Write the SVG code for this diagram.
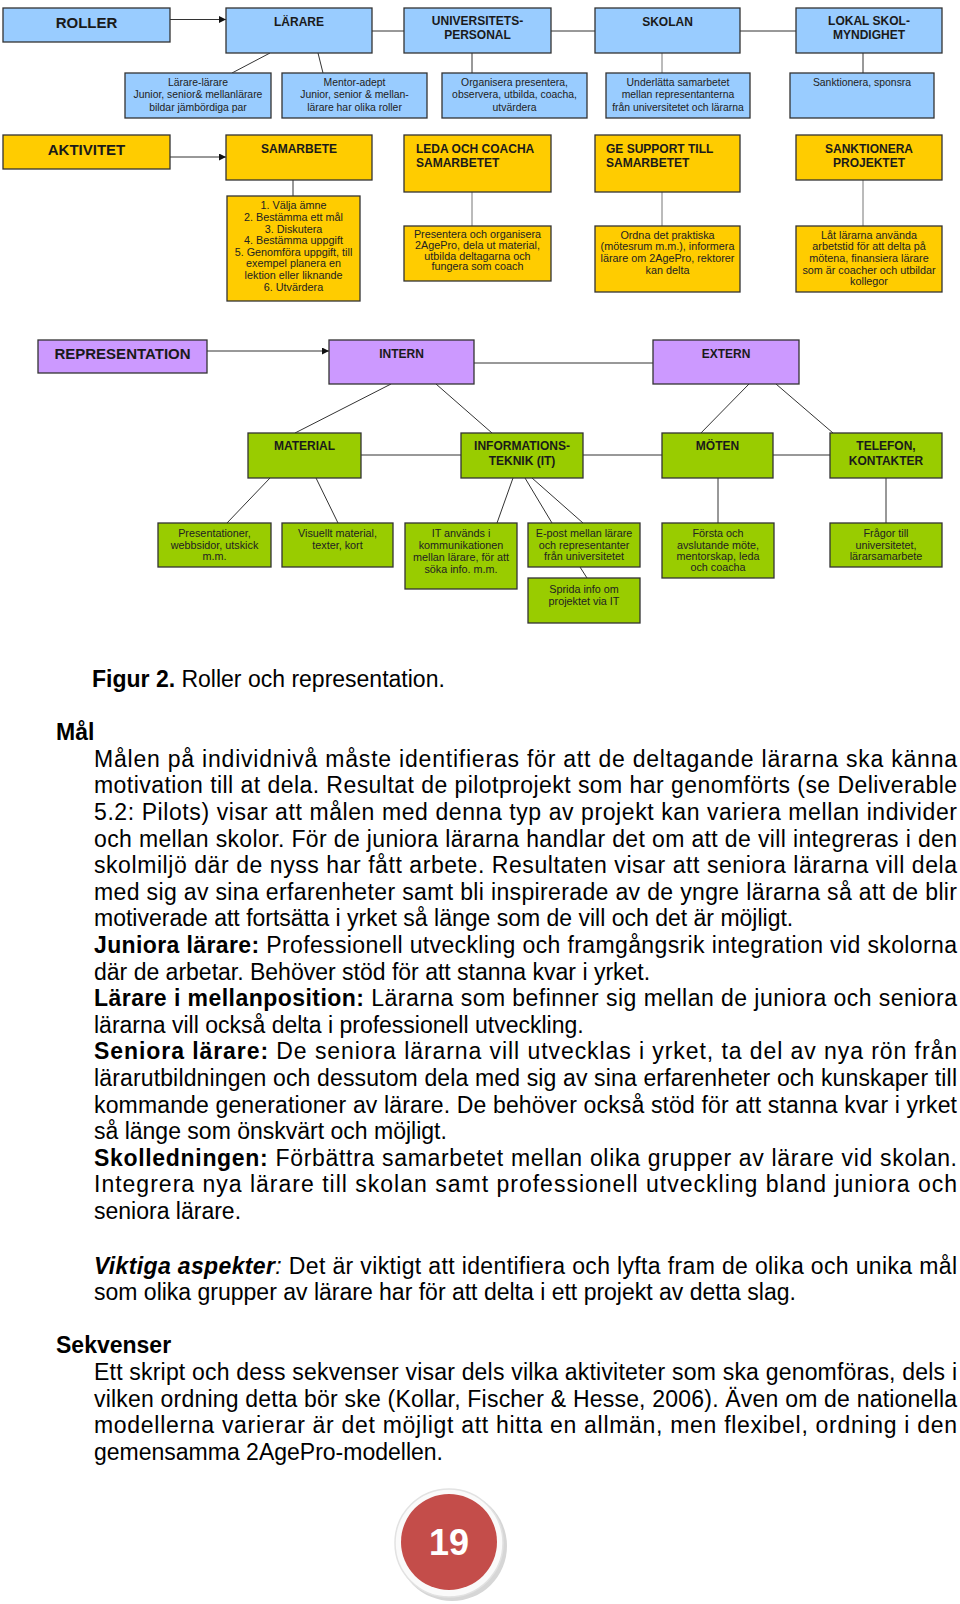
<svg xmlns="http://www.w3.org/2000/svg" width="960" height="1604" viewBox="0 0 960 1604">
<style>
.box{stroke:#333;stroke-width:1.3}
.b{fill:#99ccff}.y{fill:#ffcc00}.p{fill:#cc99ff}.g{fill:#99cc00}
.t{font-family:"Liberation Sans",Arial,sans-serif;font-weight:bold;font-size:12px;fill:#1a1a1a;text-anchor:middle}
.tl{font-family:"Liberation Sans",Arial,sans-serif;font-weight:bold;font-size:12px;fill:#1a1a1a}
.big{font-family:"Liberation Sans",Arial,sans-serif;font-weight:bold;font-size:15px;fill:#1a1a1a;text-anchor:middle}
.s{font-family:"Liberation Sans",Arial,sans-serif;font-size:10.8px;fill:#222;text-anchor:middle}
.sb{font-size:10.4px}
.c line{stroke:#333;stroke-width:1}
.c line.gr{stroke:#777}
.body{font-family:"Liberation Sans",Arial,sans-serif;font-size:23px;fill:#000}
.bd{font-weight:bold}
</style>
<defs>
<marker id="ah" viewBox="0 0 10 10" refX="10" refY="5" markerWidth="7" markerHeight="7" orient="auto" markerUnits="userSpaceOnUse">
<path d="M0,0 L10,5 L0,10 z" fill="#111"/>
</marker>
</defs>
<rect width="960" height="1604" fill="#fff"/>

<g class="c" id="connectors">
<line x1="170" y1="19.5" x2="226" y2="19.5" marker-end="url(#ah)"/>
<line x1="372" y1="31" x2="404" y2="31"/>
<line x1="551" y1="31" x2="595" y2="31"/>
<line x1="740" y1="31" x2="796" y2="31"/>
<line x1="270" y1="53" x2="232" y2="73"/>
<line x1="318" y1="53" x2="323" y2="73"/>
<line x1="472" y1="53" x2="472" y2="73"/>
<line class="gr" x1="662" y1="53" x2="662" y2="73"/>
<line x1="863" y1="53" x2="863" y2="73"/>
<line x1="170" y1="157" x2="226" y2="157" marker-end="url(#ah)"/>
<line x1="293" y1="180" x2="293" y2="196"/>
<line class="gr" x1="472" y1="192" x2="472" y2="226"/>
<line class="gr" x1="662" y1="192" x2="662" y2="226"/>
<line class="gr" x1="863" y1="180" x2="863" y2="226"/>
<line x1="207" y1="351" x2="329" y2="351" marker-end="url(#ah)"/>
<line x1="474" y1="363" x2="653" y2="363"/>
<line x1="391" y1="384" x2="295" y2="433"/>
<line x1="436" y1="384" x2="492" y2="433"/>
<line x1="749" y1="384" x2="697" y2="437"/>
<line x1="776" y1="384" x2="833" y2="433"/>
<line x1="361" y1="455" x2="461" y2="455"/>
<line x1="583" y1="455" x2="662" y2="455"/>
<line x1="773" y1="455" x2="830" y2="455"/>
<line x1="270" y1="478" x2="227" y2="523"/>
<line x1="316" y1="478" x2="338" y2="523"/>
<line x1="513" y1="478" x2="497" y2="523"/>
<line x1="525" y1="478" x2="552" y2="523"/>
<line x1="532" y1="478" x2="583" y2="523"/>
<line x1="580" y1="567" x2="587" y2="578"/>
<line x1="718" y1="478" x2="718" y2="523"/>
<line x1="886" y1="478" x2="886" y2="523"/>
</g>

<g id="roller"><rect class="box b" x="3" y="8" width="167" height="34"/><text class="big" x="86.5" y="28">ROLLER</text></g>
<g id="larare"><rect class="box b" x="226" y="8" width="146" height="45"/><text class="t" x="299" y="25.6">LÄRARE</text></g>
<g id="universitet"><rect class="box b" x="404" y="8" width="147" height="45"/><text class="t" x="477.5" y="24.5">UNIVERSITETS-</text><text class="t" x="477.5" y="38.5">PERSONAL</text></g>
<g id="skolan"><rect class="box b" x="595" y="8" width="145" height="45"/><text class="t" x="667.5" y="26">SKOLAN</text></g>
<g id="lokal"><rect class="box b" x="796" y="8" width="146" height="45"/><text class="t" x="869" y="24.5">LOKAL SKOL-</text><text class="t" x="869" y="38.5">MYNDIGHET</text></g>

<g id="larare-larare"><rect class="box b" x="125" y="73" width="146" height="45"/><text class="s sb" x="198" y="85.5">Lärare-lärare</text><text class="s sb" x="198" y="98">Junior, senior&amp; mellanlärare</text><text class="s sb" x="198" y="110.5">bildar jämbördiga par</text></g>
<g id="mentor"><rect class="box b" x="282" y="73" width="145" height="45"/><text class="s sb" x="354.5" y="85.5">Mentor-adept</text><text class="s sb" x="354.5" y="98">Junior, senior &amp; mellan-</text><text class="s sb" x="354.5" y="110.5">lärare har olika roller</text></g>
<g id="organisera"><rect class="box b" x="442" y="73" width="145" height="45"/><text class="s sb" x="514.5" y="85.5">Organisera presentera,</text><text class="s sb" x="514.5" y="98">observera, utbilda, coacha,</text><text class="s sb" x="514.5" y="110.5">utvärdera</text></g>
<g id="underlatta"><rect class="box b" x="606" y="73" width="144" height="45"/><text class="s sb" x="678" y="85.5">Underlätta samarbetet</text><text class="s sb" x="678" y="98">mellan representanterna</text><text class="s sb" x="678" y="110.5">från universitetet och lärarna</text></g>
<g id="sanktionera-sponsra"><rect class="box b" x="790" y="73" width="144" height="45"/><text class="s sb" x="862" y="85.5">Sanktionera, sponsra</text></g>

<g id="aktivitet"><rect class="box y" x="3" y="135" width="167" height="34"/><text class="big" x="86.5" y="155.4">AKTIVITET</text></g>
<g id="samarbete"><rect class="box y" x="226" y="135" width="146" height="45"/><text class="t" x="299" y="153.3">SAMARBETE</text></g>
<g id="leda"><rect class="box y" x="404" y="135" width="147" height="57"/><text class="tl" x="416" y="152.6">LEDA OCH COACHA</text><text class="tl" x="416" y="167">SAMARBETET</text></g>
<g id="support"><rect class="box y" x="595" y="135" width="145" height="57"/><text class="tl" x="606" y="152.6">GE SUPPORT TILL</text><text class="tl" x="606" y="167">SAMARBETET</text></g>
<g id="sanktionera-projektet"><rect class="box y" x="796" y="135" width="146" height="45"/><text class="t" x="869" y="152.6">SANKTIONERA</text><text class="t" x="869" y="166.6">PROJEKTET</text></g>

<g id="steg"><rect class="box y" x="227" y="196" width="133" height="105"/>
<text class="s" x="293.5" y="209.3">1. Välja ämne</text>
<text class="s" x="293.5" y="220.9">2. Bestämma ett mål</text>
<text class="s" x="293.5" y="232.5">3. Diskutera</text>
<text class="s" x="293.5" y="244.1">4. Bestämma uppgift</text>
<text class="s" x="293.5" y="255.7">5. Genomföra uppgift, till</text>
<text class="s" x="293.5" y="267.3">exempel planera en</text>
<text class="s" x="293.5" y="278.9">lektion eller liknande</text>
<text class="s" x="293.5" y="290.5">6. Utvärdera</text></g>
<g id="presentera"><rect class="box y" x="404" y="226" width="147" height="55"/>
<text class="s" x="477.5" y="238">Presentera och organisera</text>
<text class="s" x="477.5" y="248.8">2AgePro, dela ut material,</text>
<text class="s" x="477.5" y="259.6">utbilda deltagarna och</text>
<text class="s" x="477.5" y="270.4">fungera som coach</text></g>
<g id="ordna"><rect class="box y" x="595" y="226" width="145" height="66"/>
<text class="s" x="667.5" y="238.5">Ordna det praktiska</text>
<text class="s" x="667.5" y="250.2">(mötesrum m.m.), informera</text>
<text class="s" x="667.5" y="261.9">lärare om 2AgePro, rektorer</text>
<text class="s" x="667.5" y="273.6">kan delta</text></g>
<g id="lat"><rect class="box y" x="796" y="226" width="146" height="66"/>
<text class="s" x="869" y="238.5">Låt lärarna använda</text>
<text class="s" x="869" y="250.2">arbetstid för att delta på</text>
<text class="s" x="869" y="261.9">mötena, finansiera lärare</text>
<text class="s" x="869" y="273.6">som är coacher och utbildar</text>
<text class="s" x="869" y="285.3">kollegor</text></g>

<g id="representation"><rect class="box p" x="38" y="340" width="169" height="33"/><text class="big" x="122.5" y="359.4">REPRESENTATION</text></g>
<g id="intern"><rect class="box p" x="329" y="340" width="145" height="44"/><text class="t" x="401.5" y="357.6">INTERN</text></g>
<g id="extern"><rect class="box p" x="653" y="340" width="146" height="44"/><text class="t" x="726" y="357.6">EXTERN</text></g>

<g id="material"><rect class="box g" x="248" y="433" width="113" height="45"/><text class="t" x="304.5" y="450.3">MATERIAL</text></g>
<g id="it"><rect class="box g" x="461" y="433" width="122" height="45"/><text class="t" x="522" y="450.3">INFORMATIONS-</text><text class="t" x="522" y="465">TEKNIK (IT)</text></g>
<g id="moten"><rect class="box g" x="662" y="433" width="111" height="45"/><text class="t" x="717.5" y="450.3">MÖTEN</text></g>
<g id="telefon"><rect class="box g" x="830" y="433" width="112" height="45"/><text class="t" x="886" y="450.3">TELEFON,</text><text class="t" x="886" y="465">KONTAKTER</text></g>

<g id="presentationer"><rect class="box g" x="158" y="523" width="113" height="44"/>
<text class="s" x="214.5" y="537">Presentationer,</text><text class="s" x="214.5" y="548.5">webbsidor, utskick</text><text class="s" x="214.5" y="560">m.m.</text></g>
<g id="visuellt"><rect class="box g" x="282" y="523" width="111" height="44"/>
<text class="s" x="337.5" y="537">Visuellt material,</text><text class="s" x="337.5" y="549">texter, kort</text></g>
<g id="it-anvands"><rect class="box g" x="405" y="523" width="112" height="66"/>
<text class="s" x="461" y="537">IT används i</text><text class="s" x="461" y="549">kommunikationen</text><text class="s" x="461" y="561">mellan lärare, för att</text><text class="s" x="461" y="573">söka info. m.m.</text></g>
<g id="epost"><rect class="box g" x="528" y="523" width="112" height="44"/>
<text class="s" x="584" y="537">E-post mellan lärare</text><text class="s" x="584" y="548.5">och representanter</text><text class="s" x="584" y="560">från universitetet</text></g>
<g id="sprida"><rect class="box g" x="528" y="578" width="112" height="45"/>
<text class="s" x="584" y="593">Sprida info om</text><text class="s" x="584" y="604.7">projektet via IT</text></g>
<g id="forsta"><rect class="box g" x="662" y="523" width="112" height="55"/>
<text class="s" x="718" y="537">Första och</text><text class="s" x="718" y="548.5">avslutande möte,</text><text class="s" x="718" y="560">mentorskap, leda</text><text class="s" x="718" y="571.3">och coacha</text></g>
<g id="fragor"><rect class="box g" x="830" y="523" width="112" height="44"/>
<text class="s" x="886" y="537">Frågor till</text><text class="s" x="886" y="548.5">universitetet,</text><text class="s" x="886" y="560">lärarsamarbete</text></g>

<g id="text" class="body">
<text x="92" y="687"><tspan class="bd">Figur 2.</tspan> Roller och representation.</text>
<text x="56" y="740" class="bd">Mål</text>
<text x="94" y="766.7" textLength="863" lengthAdjust="spacing">Målen på individnivå måste identifieras för att de deltagande lärarna ska känna</text>
<text x="94" y="793.3" textLength="863" lengthAdjust="spacing">motivation till at dela. Resultat de pilotprojekt som har genomförts (se Deliverable</text>
<text x="94" y="819.9" textLength="863" lengthAdjust="spacing">5.2: Pilots) visar att målen med denna typ av projekt kan variera mellan individer</text>
<text x="94" y="846.5" textLength="863" lengthAdjust="spacing">och mellan skolor. För de juniora lärarna handlar det om att de vill integreras i den</text>
<text x="94" y="873.1" textLength="863" lengthAdjust="spacing">skolmiljö där de nyss har fått arbete. Resultaten visar att seniora lärarna vill dela</text>
<text x="94" y="899.7" textLength="863" lengthAdjust="spacing">med sig av sina erfarenheter samt bli inspirerade av de yngre lärarna så att de blir</text>
<text x="94" y="926.3">motiverade att fortsätta i yrket så länge som de vill och det är möjligt.</text>
<text x="94" y="952.9" textLength="863" lengthAdjust="spacing"><tspan class="bd">Juniora lärare:</tspan> Professionell utveckling och framgångsrik integration vid skolorna</text>
<text x="94" y="979.5">där de arbetar. Behöver stöd för att stanna kvar i yrket.</text>
<text x="94" y="1006.1" textLength="863" lengthAdjust="spacing"><tspan class="bd">Lärare i mellanposition:</tspan> Lärarna som befinner sig mellan de juniora och seniora</text>
<text x="94" y="1032.7">lärarna vill också delta i professionell utveckling.</text>
<text x="94" y="1059.3" textLength="863" lengthAdjust="spacing"><tspan class="bd">Seniora lärare:</tspan> De seniora lärarna vill utvecklas i yrket, ta del av nya rön från</text>
<text x="94" y="1085.9" textLength="863" lengthAdjust="spacing">lärarutbildningen och dessutom dela med sig av sina erfarenheter och kunskaper till</text>
<text x="94" y="1112.5" textLength="863" lengthAdjust="spacing">kommande generationer av lärare. De behöver också stöd för att stanna kvar i yrket</text>
<text x="94" y="1139.1">så länge som önskvärt och möjligt.</text>
<text x="94" y="1165.7" textLength="863" lengthAdjust="spacing"><tspan class="bd">Skolledningen:</tspan> Förbättra samarbetet mellan olika grupper av lärare vid skolan.</text>
<text x="94" y="1192.3" textLength="863" lengthAdjust="spacing">Integrera nya lärare till skolan samt professionell utveckling bland juniora och</text>
<text x="94" y="1218.9">seniora lärare.</text>
<text x="94" y="1273.5" textLength="863" lengthAdjust="spacing"><tspan class="bd" font-style="italic">Viktiga aspekter</tspan><tspan font-style="italic">:</tspan> Det är viktigt att identifiera och lyfta fram de olika och unika mål</text>
<text x="94" y="1300.1">som olika grupper av lärare har för att delta i ett projekt av detta slag.</text>
<text x="56" y="1353.3" class="bd">Sekvenser</text>
<text x="94" y="1379.9" textLength="863" lengthAdjust="spacing">Ett skript och dess sekvenser visar dels vilka aktiviteter som ska genomföras, dels i</text>
<text x="94" y="1406.5" textLength="863" lengthAdjust="spacing">vilken ordning detta bör ske (Kollar, Fischer &amp; Hesse, 2006). Även om de nationella</text>
<text x="94" y="1433.1" textLength="863" lengthAdjust="spacing">modellerna varierar är det möjligt att hitta en allmän, men flexibel, ordning i den</text>
<text x="94" y="1459.7">gemensamma 2AgePro-modellen.</text>
</g>

<g id="page-number">
<circle cx="452" cy="1546" r="55" fill="#d6d6d6"/>
<circle cx="449" cy="1543" r="54" fill="#fafafa" stroke="#e2e2e2" stroke-width="1.5"/>
<circle cx="449" cy="1542" r="48" fill="#c44d4a"/>
<text x="449" y="1555" text-anchor="middle" font-family="'Liberation Sans',Arial,sans-serif" font-weight="bold" font-size="36" fill="#fff">19</text>
</g>
</svg>
